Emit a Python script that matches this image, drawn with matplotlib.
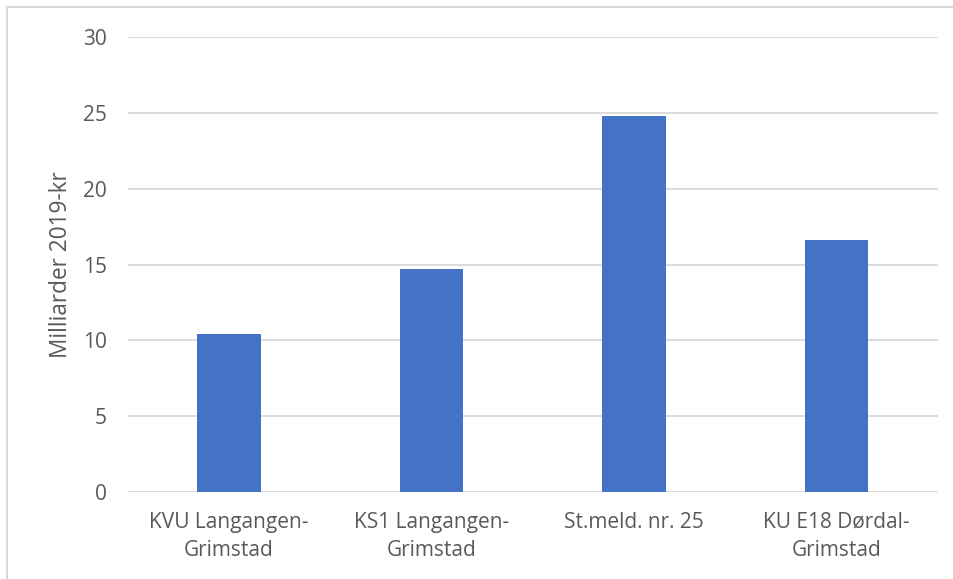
import matplotlib.pyplot as plt
from matplotlib.patches import Rectangle

# Kostnadsoverslag for prosjektet i ulike faser
kategorier = ["KVU Langangen-\nGrimstad", "KS1 Langangen-\nGrimstad",
              "St.meld. nr. 25", "KU E18 Dørdal-\nGrimstad"]
verdier = [10.4, 14.7, 24.8, 16.6]
yticks = [0, 5, 10, 15, 20, 25, 30]

plt.rcParams['font.family'] = ['Open Sans', 'DejaVu Sans']
tekstfarge = "#595959"
gridfarge = "#d9d9d9"

fig = plt.figure(figsize=(9.54, 5.79), dpi=100)
ax = fig.add_axes([0.134, 0.150, 0.849, 0.786])

x = range(len(kategorier))
ax.bar(x, verdier, width=0.314, color="#4472c4", zorder=3)

ax.set_xlim(-0.5, len(kategorier) - 0.5)
ax.set_ylim(0, 30)
ax.set_yticks(yticks)
ax.set_xticks(list(x))
ax.set_xticklabels(kategorier, fontsize=15, color=tekstfarge, linespacing=1.45)
ax.tick_params(axis='y', labelsize=15, labelcolor=tekstfarge, length=0, pad=15)
ax.tick_params(axis='x', length=0, pad=14)
ax.grid(axis='y', color=gridfarge, linewidth=1.3, zorder=0)
for s in ax.spines.values():
    s.set_visible(False)

ax.set_ylabel("Milliarder 2019-kr", fontsize=16.3, color=tekstfarge, labelpad=7)

# Ramme rundt diagrammet
fig.patches.append(Rectangle((7 / 954, -0.1), 1.2, 1 - 7 / 579 + 0.1,
                             transform=fig.transFigure, fill=False,
                             edgecolor=gridfarge, linewidth=1.5))

plt.savefig("out.png")
